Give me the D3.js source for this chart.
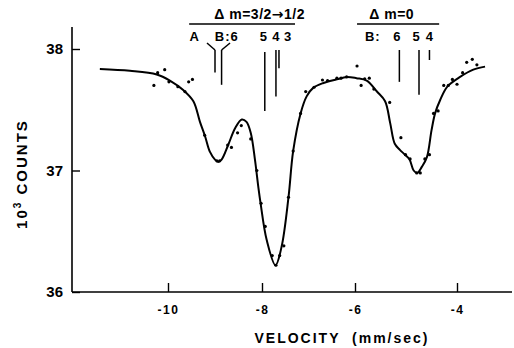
<!DOCTYPE html>
<html>
<head>
<meta charset="utf-8">
<script src="https://cdn.jsdelivr.net/npm/d3@7/dist/d3.min.js"></script>
<style>
  html, body { margin: 0; padding: 0; background: #fff; }
  svg { display: block; }
  text { font-family: "Liberation Sans", Arial, sans-serif; font-weight: bold; fill: #000; }
  .arrow { font-family: "DejaVu Sans", sans-serif; }
</style>
</head>
<body>
<svg id="chart" width="514" height="348"></svg>
<script>
// Axis ticks
const velTicks = [-10, -8, -6, -4];
const countTicks = [36, 37, 38];

// Measured spectrum (velocity in mm/sec, counts in thousands)
const obsVel = [-10.30, -10.22, -10.07, -9.98, -9.79, -9.64, -9.56, -9.48, -9.22, -8.96, -8.90,
  -8.73, -8.65, -8.52, -8.44, -8.24, -8.11, -8.02, -7.93, -7.78, -7.70, -7.62, -7.53, -7.43,
  -7.33, -7.17, -7.06, -6.88, -6.70, -6.59, -6.39, -6.30, -6.18, -5.96, -5.88, -5.81, -5.72,
  -5.63, -5.32, -5.10, -5.01, -4.92, -4.79, -4.72, -4.63, -4.54, -4.46, -4.37, -4.26, -4.17,
  -4.09, -4.00, -3.89, -3.81, -3.70, -3.61];
const obsCounts = [37.70, 37.805, 37.83, 37.73, 37.69, 37.65, 37.73, 37.75, 37.29, 37.08, 37.08,
  37.21, 37.19, 37.31, 37.37, 37.26, 37.00, 36.73, 36.54, 36.30, 36.22, 36.30, 36.38, 36.78,
  37.16, 37.47, 37.65, 37.685, 37.745, 37.74, 37.76, 37.76, 37.77, 37.86, 37.70, 37.755, 37.76,
  37.67, 37.56, 37.27, 37.13, 37.095, 36.98, 36.98, 37.095, 37.13, 37.47, 37.49, 37.70, 37.70,
  37.75, 37.71, 37.805, 37.89, 37.915, 37.87];

// Fitted curve
const fitVel = [-11.45, -10.81, -10.24, -9.96, -9.67, -9.46, -9.32, -9.21, -9.11, -9.00, -8.93,
  -8.86, -8.72, -8.57, -8.43, -8.33, -8.24, -8.15, -8.08, -8.03, -7.90, -7.71, -7.58, -7.43,
  -7.33, -7.17, -7.04, -6.90, -6.68, -6.39, -6.18, -5.97, -5.77, -5.57, -5.41, -5.31, -5.22,
  -5.12, -5.02, -4.93, -4.85, -4.78, -4.69, -4.59, -4.50, -4.43, -4.33, -4.19, -3.94, -3.68, -3.45];
const fitCounts = [37.835, 37.82, 37.79, 37.74, 37.66, 37.57, 37.40, 37.28, 37.155, 37.09, 37.07,
  37.09, 37.21, 37.35, 37.42, 37.40, 37.31, 37.09, 36.87, 36.73, 36.43, 36.22, 36.37, 36.78,
  37.16, 37.47, 37.61, 37.68, 37.72, 37.75, 37.77, 37.76, 37.74, 37.65, 37.57, 37.39, 37.22,
  37.17, 37.13, 37.09, 37.00, 36.98, 37.03, 37.11, 37.33, 37.47, 37.58, 37.69, 37.77, 37.83, 37.855];

// Transition groups and their line positions
const groupTitles = ["Δ m=3/2→1/2", "Δ m=0"];
const groupFrom = [-9.55, -5.96];
const groupTo = [-7.29, -4.35];
const groupCenter = [-8.05, -5.28];

const lineLabels = ["A", "B:6", "5", "4", "3", "B:", "6", "5", "4"];
const lineLabelVel = [-9.43, -8.75, -7.96, -7.69, -7.44, -5.65, -5.17, -4.79, -4.53];

const stickVel = [-9.0, -8.86, -7.94, -7.70, -7.635, -5.13, -4.745, -4.54];
const stickStrength = [0.38, 0.59, 1.0, 0.79, 0.31, 0.54, 0.76, 0.17];

const svg = d3.select("#chart");

const x = d3.scaleLinear().domain(velTicks).range([168, 262, 355, 457]);
const y = d3.scaleLinear().domain([36, 38]).range([292, 49]);
const stickLen = d3.scaleLinear().domain([0, 1]).range([0, 59]);

// Axes: inward ticks
const xAxis = svg.append("g").attr("transform", "translate(0,292)")
  .call(d3.axisBottom(x).tickValues(velTicks).tickSizeInner(-9).tickSizeOuter(0)
    .tickPadding(13).tickFormat(d => d));
xAxis.select(".domain").remove();
xAxis.selectAll(".tick line").attr("stroke", "#000").attr("stroke-width", 1.4);
xAxis.selectAll(".tick text").style("font-size", "12px").attr("dy", "0.71em")
  .style("letter-spacing", "1.5px");

const yAxis = svg.append("g").attr("transform", "translate(72,0)")
  .call(d3.axisLeft(y).tickValues(countTicks).tickSizeInner(-8).tickSizeOuter(0)
    .tickPadding(9).tickFormat(d3.format("d")));
yAxis.select(".domain").remove();
yAxis.selectAll(".tick line").attr("stroke", "#000").attr("stroke-width", 1.4);
yAxis.selectAll(".tick text").style("font-size", "15px");

// Axis lines
svg.append("line").attr("x1", 72).attr("x2", 512).attr("y1", 292).attr("y2", 292)
  .attr("stroke", "#000").attr("stroke-width", 1.6);
svg.append("line").attr("x1", 72).attr("x2", 72).attr("y1", 292).attr("y2", 27)
  .attr("stroke", "#000").attr("stroke-width", 1.6);

// Axis titles
svg.append("text").attr("x", 342).attr("y", 343).attr("text-anchor", "middle")
  .style("font-size", "14px").style("letter-spacing", "2px").attr("xml:space", "preserve")
  .text("VELOCITY  (mm/sec)");
const yt = svg.append("text").attr("transform", "translate(27,174) rotate(-90)")
  .attr("text-anchor", "middle").style("font-size", "15px").style("letter-spacing", "2px");
yt.append("tspan").text("10");
yt.append("tspan").attr("dy", -6).style("font-size", "10px").text("3");
yt.append("tspan").attr("dy", 6).text(" COUNTS");

// Fitted curve
const fit = fitVel.map((v, i) => [v, fitCounts[i]]);
svg.append("path").datum(fit)
  .attr("fill", "none").attr("stroke", "#000").attr("stroke-width", 2)
  .attr("d", d3.line().x(d => x(d[0])).y(d => y(d[1])).curve(d3.curveCatmullRom.alpha(0.5)));

// Data points
svg.append("g").selectAll("circle").data(obsVel.map((v, i) => [v, obsCounts[i]]))
  .join("circle").attr("cx", d => x(d[0])).attr("cy", d => y(d[1])).attr("r", 1.6)
  .attr("fill", "#000");

// Group titles and rules; the arrow is set in a font with a full-width glyph
groupTitles.forEach((t, i) => {
  const tx = svg.append("text").attr("x", x(groupCenter[i])).attr("y", 19)
    .attr("text-anchor", "middle").attr("xml:space", "preserve")
    .style("font-size", "14px").style("letter-spacing", "0.5px");
  t.split(/(→)/).forEach(part => {
    const ts = tx.append("tspan").text(part);
    if (part === "→") ts.attr("class", "arrow");
  });
  svg.append("line").attr("x1", x(groupFrom[i])).attr("x2", x(groupTo[i]))
    .attr("y1", 24).attr("y2", 24).attr("stroke", "#000").attr("stroke-width", 1.5);
});

// Line labels
svg.append("g").selectAll("text").data(lineLabels).join("text")
  .attr("x", (d, i) => x(lineLabelVel[i])).attr("y", 41).attr("text-anchor", "middle")
  .style("font-size", "13px").style("letter-spacing", "1px").text(d => d);

// Sticks
const stickTop = [50, 50, 52, 50, 50, 50, 50, 50];
svg.append("g").selectAll("line").data(stickVel).join("line")
  .attr("x1", d => x(d)).attr("x2", d => x(d))
  .attr("y1", (d, i) => stickTop[i]).attr("y2", (d, i) => stickTop[i] + stickLen(stickStrength[i]))
  .attr("stroke", "#000").attr("stroke-width", 1.5);

// Bracket joining the A and B:6 labels to their sticks
svg.append("line").attr("x1", x(-9.17)).attr("y1", 43).attr("x2", x(stickVel[0])).attr("y2", 50)
  .attr("stroke", "#000").attr("stroke-width", 1.5);
svg.append("line").attr("x1", x(-8.68)).attr("y1", 43).attr("x2", x(stickVel[1])).attr("y2", 50)
  .attr("stroke", "#000").attr("stroke-width", 1.5);
</script>
</body>
</html>
